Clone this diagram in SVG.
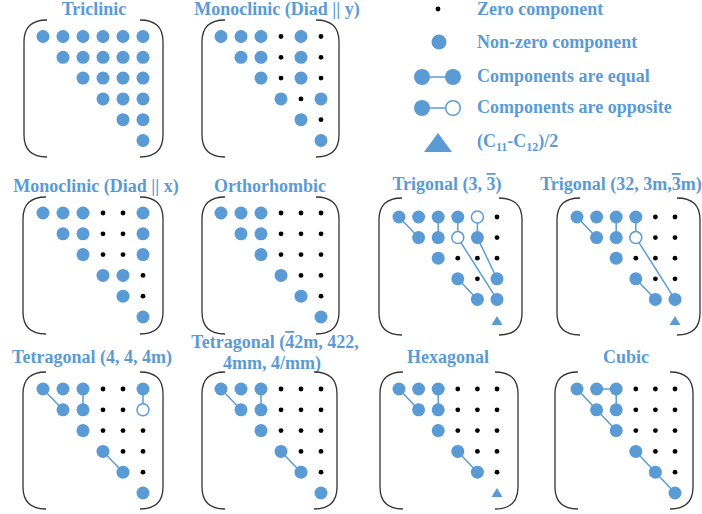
<svg xmlns="http://www.w3.org/2000/svg" xmlns:xlink="http://www.w3.org/1999/xlink" width="702" height="514" viewBox="0 0 702 514">
<style>
text{font-family:"Liberation Serif","Times New Roman",serif;font-weight:bold;font-size:18px;fill:#5B9BD5}
.tc{text-anchor:middle}
.b{fill:#5B9BD5}
.o{fill:#fff;stroke:#5B9BD5;stroke-width:1.5}
.z{fill:#000}
.l{stroke:#5B9BD5;stroke-width:1.5;fill:none}
.br{fill:none;stroke:#333;stroke-width:1.3}
</style>
<defs>
<path id="bl" class="br" d="M23,0 C8,0 0,7 0,22 L0,115 C0,130 8,137 23,137"/>
<path id="brr" class="br" d="M-23,0 C-8,0 0,7 0,22 L0,115 C0,130 -8,137 -23,137"/>
<circle id="B" r="6.5" class="b"/>
<circle id="O" r="6" class="o"/>
<circle id="Z" r="2.4" class="z"/>
<polygon id="T" points="-5.5,4 5.5,4 0,-5" class="b"/>
</defs>

<g id="legend">
<use href="#Z" x="438" y="9"/>
<text x="477" y="15">Zero component</text>
<circle cx="439" cy="42" r="7.5" class="b"/>
<text x="477" y="48">Non-zero component</text>
<line class="l" x1="422" y1="77" x2="453" y2="77"/>
<circle cx="422" cy="77" r="8" class="b"/>
<circle cx="453" cy="77" r="8" class="b"/>
<text x="477" y="82">Components are equal</text>
<line class="l" x1="422" y1="108" x2="453" y2="108"/>
<circle cx="422" cy="108" r="8" class="b"/>
<circle cx="453" cy="108" r="7.3" class="o"/>
<text x="477" y="113">Components are opposite</text>
<polygon points="424,152 452,152 438,133" class="b"/>
<text x="477" y="147">(C<tspan font-size="12" dy="4">11</tspan><tspan dy="-4">-C</tspan><tspan font-size="12" dy="4">12</tspan><tspan dy="-4">)/2</tspan></text>
</g>

<g id="triclinic">
<text class="tc" x="94" y="15">Triclinic</text>
<use href="#bl" x="24" y="20"/><use href="#brr" x="163" y="20"/>
<g transform="translate(43,36.5)">
<use href="#B" x="0" y="0"/><use href="#B" x="20" y="0"/><use href="#B" x="40" y="0"/><use href="#B" x="60" y="0"/><use href="#B" x="80" y="0"/><use href="#B" x="100" y="0"/>
<use href="#B" x="20" y="20.8"/><use href="#B" x="40" y="20.8"/><use href="#B" x="60" y="20.8"/><use href="#B" x="80" y="20.8"/><use href="#B" x="100" y="20.8"/>
<use href="#B" x="40" y="41.6"/><use href="#B" x="60" y="41.6"/><use href="#B" x="80" y="41.6"/><use href="#B" x="100" y="41.6"/>
<use href="#B" x="60" y="62.4"/><use href="#B" x="80" y="62.4"/><use href="#B" x="100" y="62.4"/>
<use href="#B" x="80" y="83.2"/><use href="#B" x="100" y="83.2"/>
<use href="#B" x="100" y="104"/>
</g>
</g>

<g id="monoclinic-y">
<text class="tc" x="277" y="15">Monoclinic (Diad || y)</text>
<use href="#bl" x="202" y="20"/><use href="#brr" x="339" y="20"/>
<g transform="translate(221,36.5)">
<use href="#B" x="0" y="0"/><use href="#B" x="20" y="0"/><use href="#B" x="40" y="0"/><use href="#Z" x="60" y="0"/><use href="#B" x="80" y="0"/><use href="#Z" x="100" y="0"/>
<use href="#B" x="20" y="20.8"/><use href="#B" x="40" y="20.8"/><use href="#Z" x="60" y="20.8"/><use href="#B" x="80" y="20.8"/><use href="#Z" x="100" y="20.8"/>
<use href="#B" x="40" y="41.6"/><use href="#Z" x="60" y="41.6"/><use href="#B" x="80" y="41.6"/><use href="#Z" x="100" y="41.6"/>
<use href="#B" x="60" y="62.4"/><use href="#Z" x="80" y="62.4"/><use href="#B" x="100" y="62.4"/>
<use href="#B" x="80" y="83.2"/><use href="#Z" x="100" y="83.2"/>
<use href="#B" x="100" y="104"/>
</g>
</g>

<g id="monoclinic-x">
<text class="tc" x="96" y="192">Monoclinic (Diad || x)</text>
<use href="#bl" x="23" y="197"/><use href="#brr" x="163" y="197"/>
<g transform="translate(43,213)">
<use href="#B" x="0" y="0"/><use href="#B" x="20" y="0"/><use href="#B" x="40" y="0"/><use href="#Z" x="60" y="0"/><use href="#Z" x="80" y="0"/><use href="#B" x="100" y="0"/>
<use href="#B" x="20" y="20.8"/><use href="#B" x="40" y="20.8"/><use href="#Z" x="60" y="20.8"/><use href="#Z" x="80" y="20.8"/><use href="#B" x="100" y="20.8"/>
<use href="#B" x="40" y="41.6"/><use href="#Z" x="60" y="41.6"/><use href="#Z" x="80" y="41.6"/><use href="#B" x="100" y="41.6"/>
<use href="#B" x="60" y="62.4"/><use href="#B" x="80" y="62.4"/><use href="#Z" x="100" y="62.4"/>
<use href="#B" x="80" y="83.2"/><use href="#Z" x="100" y="83.2"/>
<use href="#B" x="100" y="104"/>
</g>
</g>

<g id="orthorhombic">
<text class="tc" x="270" y="192">Orthorhombic</text>
<use href="#bl" x="202" y="197"/><use href="#brr" x="339" y="197"/>
<g transform="translate(221,213)">
<use href="#B" x="0" y="0"/><use href="#B" x="20" y="0"/><use href="#B" x="40" y="0"/><use href="#Z" x="60" y="0"/><use href="#Z" x="80" y="0"/><use href="#Z" x="100" y="0"/>
<use href="#B" x="20" y="20.8"/><use href="#B" x="40" y="20.8"/><use href="#Z" x="60" y="20.8"/><use href="#Z" x="80" y="20.8"/><use href="#Z" x="100" y="20.8"/>
<use href="#B" x="40" y="41.6"/><use href="#Z" x="60" y="41.6"/><use href="#Z" x="80" y="41.6"/><use href="#Z" x="100" y="41.6"/>
<use href="#B" x="60" y="62.4"/><use href="#Z" x="80" y="62.4"/><use href="#Z" x="100" y="62.4"/>
<use href="#B" x="80" y="83.2"/><use href="#Z" x="100" y="83.2"/>
<use href="#B" x="100" y="104"/>
</g>
</g>

<g id="trigonal-3">
<text class="tc" x="447" y="190">Trigonal (3, <tspan text-decoration="overline">3</tspan>)</text>
<use href="#bl" x="379" y="198"/><use href="#brr" x="522" y="198"/>
<g transform="translate(399,217)">
<g class="l">
<line x1="0" y1="0" x2="19.6" y2="20.6"/>
<line x1="39.2" y1="0" x2="39.2" y2="20.6"/>
<line x1="58.8" y1="0" x2="58.8" y2="20.6"/>
<line x1="78.4" y1="0" x2="78.4" y2="20.6"/>
<line x1="58.8" y1="20.6" x2="98" y2="82.4"/>
<line x1="78.4" y1="20.6" x2="98" y2="61.8"/>
<line x1="58.8" y1="61.8" x2="78.4" y2="82.4"/>
</g>
<use href="#B" x="0" y="0"/><use href="#B" x="19.6" y="0"/><use href="#B" x="39.2" y="0"/><use href="#B" x="58.8" y="0"/><use href="#O" x="78.4" y="0"/><use href="#Z" x="98" y="0"/>
<use href="#B" x="19.6" y="20.6"/><use href="#B" x="39.2" y="20.6"/><use href="#O" x="58.8" y="20.6"/><use href="#B" x="78.4" y="20.6"/><use href="#Z" x="98" y="20.6"/>
<use href="#B" x="39.2" y="41.2"/><use href="#Z" x="58.8" y="41.2"/><use href="#Z" x="78.4" y="41.2"/><use href="#Z" x="98" y="41.2"/>
<use href="#B" x="58.8" y="61.8"/><use href="#Z" x="78.4" y="61.8"/><use href="#B" x="98" y="61.8"/>
<use href="#B" x="78.4" y="82.4"/><use href="#B" x="98" y="82.4"/>
<use href="#T" x="98" y="104"/>
</g>
</g>

<g id="trigonal-32">
<text class="tc" x="621" y="190">Trigonal (32, 3m,<tspan text-decoration="overline">3</tspan>m)</text>
<use href="#bl" x="557" y="198"/><use href="#brr" x="700" y="198"/>
<g transform="translate(577,217)">
<g class="l">
<line x1="0" y1="0" x2="19.6" y2="20.6"/>
<line x1="39.2" y1="0" x2="39.2" y2="20.6"/>
<line x1="58.8" y1="0" x2="58.8" y2="20.6"/>
<line x1="58.8" y1="20.6" x2="98" y2="82.4"/>
<line x1="58.8" y1="61.8" x2="78.4" y2="82.4"/>
</g>
<use href="#B" x="0" y="0"/><use href="#B" x="19.6" y="0"/><use href="#B" x="39.2" y="0"/><use href="#B" x="58.8" y="0"/><use href="#Z" x="78.4" y="0"/><use href="#Z" x="98" y="0"/>
<use href="#B" x="19.6" y="20.6"/><use href="#B" x="39.2" y="20.6"/><use href="#O" x="58.8" y="20.6"/><use href="#Z" x="78.4" y="20.6"/><use href="#Z" x="98" y="20.6"/>
<use href="#B" x="39.2" y="41.2"/><use href="#Z" x="58.8" y="41.2"/><use href="#Z" x="78.4" y="41.2"/><use href="#Z" x="98" y="41.2"/>
<use href="#B" x="58.8" y="61.8"/><use href="#Z" x="78.4" y="61.8"/><use href="#Z" x="98" y="61.8"/>
<use href="#B" x="78.4" y="82.4"/><use href="#B" x="98" y="82.4"/>
<use href="#T" x="98" y="104"/>
</g>
</g>

<g id="tetragonal-4">
<text class="tc" x="92" y="363">Tetragonal (4, 4, 4m)</text>
<use href="#bl" x="23" y="372"/><use href="#brr" x="163" y="372"/>
<g transform="translate(43,389)">
<g class="l">
<line x1="0" y1="0" x2="20" y2="20.8"/>
<line x1="40" y1="0" x2="40" y2="20.8"/>
<line x1="100" y1="0" x2="100" y2="20.8"/>
<line x1="60" y1="62.4" x2="80" y2="83.2"/>
</g>
<use href="#B" x="0" y="0"/><use href="#B" x="20" y="0"/><use href="#B" x="40" y="0"/><use href="#Z" x="60" y="0"/><use href="#Z" x="80" y="0"/><use href="#B" x="100" y="0"/>
<use href="#B" x="20" y="20.8"/><use href="#B" x="40" y="20.8"/><use href="#Z" x="60" y="20.8"/><use href="#Z" x="80" y="20.8"/><use href="#O" x="100" y="20.8"/>
<use href="#B" x="40" y="41.6"/><use href="#Z" x="60" y="41.6"/><use href="#Z" x="80" y="41.6"/><use href="#Z" x="100" y="41.6"/>
<use href="#B" x="60" y="62.4"/><use href="#Z" x="80" y="62.4"/><use href="#Z" x="100" y="62.4"/>
<use href="#B" x="80" y="83.2"/><use href="#Z" x="100" y="83.2"/>
<use href="#B" x="100" y="104"/>
</g>
</g>

<g id="tetragonal-42m">
<text class="tc" x="275" y="348">Tetragonal (<tspan text-decoration="overline">4</tspan>2m, 422,</text>
<text class="tc" x="272" y="369">4mm, 4/mm)</text>
<use href="#bl" x="202" y="372"/><use href="#brr" x="337" y="372"/>
<g transform="translate(221,389)">
<g class="l">
<line x1="0" y1="0" x2="20" y2="20.8"/>
<line x1="40" y1="0" x2="40" y2="20.8"/>
<line x1="60" y1="62.4" x2="80" y2="83.2"/>
</g>
<use href="#B" x="0" y="0"/><use href="#B" x="20" y="0"/><use href="#B" x="40" y="0"/><use href="#Z" x="60" y="0"/><use href="#Z" x="80" y="0"/><use href="#Z" x="100" y="0"/>
<use href="#B" x="20" y="20.8"/><use href="#B" x="40" y="20.8"/><use href="#Z" x="60" y="20.8"/><use href="#Z" x="80" y="20.8"/><use href="#Z" x="100" y="20.8"/>
<use href="#B" x="40" y="41.6"/><use href="#Z" x="60" y="41.6"/><use href="#Z" x="80" y="41.6"/><use href="#Z" x="100" y="41.6"/>
<use href="#B" x="60" y="62.4"/><use href="#Z" x="80" y="62.4"/><use href="#Z" x="100" y="62.4"/>
<use href="#B" x="80" y="83.2"/><use href="#Z" x="100" y="83.2"/>
<use href="#B" x="100" y="104"/>
</g>
</g>

<g id="hexagonal">
<text class="tc" x="448" y="363">Hexagonal</text>
<use href="#bl" x="380" y="372"/><use href="#brr" x="518" y="372"/>
<g transform="translate(399,389)">
<g class="l">
<line x1="0" y1="0" x2="19.6" y2="20.8"/>
<line x1="39.2" y1="0" x2="39.2" y2="20.8"/>
<line x1="58.8" y1="62.4" x2="78.4" y2="83.2"/>
</g>
<use href="#B" x="0" y="0"/><use href="#B" x="19.6" y="0"/><use href="#B" x="39.2" y="0"/><use href="#Z" x="58.8" y="0"/><use href="#Z" x="78.4" y="0"/><use href="#Z" x="98" y="0"/>
<use href="#B" x="19.6" y="20.8"/><use href="#B" x="39.2" y="20.8"/><use href="#Z" x="58.8" y="20.8"/><use href="#Z" x="78.4" y="20.8"/><use href="#Z" x="98" y="20.8"/>
<use href="#B" x="39.2" y="41.6"/><use href="#Z" x="58.8" y="41.6"/><use href="#Z" x="78.4" y="41.6"/><use href="#Z" x="98" y="41.6"/>
<use href="#B" x="58.8" y="62.4"/><use href="#Z" x="78.4" y="62.4"/><use href="#Z" x="98" y="62.4"/>
<use href="#B" x="78.4" y="83.2"/><use href="#Z" x="98" y="83.2"/>
<use href="#T" x="98" y="104"/>
</g>
</g>

<g id="cubic">
<text class="tc" x="626" y="363">Cubic</text>
<use href="#bl" x="555" y="372"/><use href="#brr" x="693" y="372"/>
<g transform="translate(577,389)">
<g class="l">
<line x1="0" y1="0" x2="39.2" y2="41.6"/>
<line x1="19.6" y1="0" x2="39.2" y2="0"/>
<line x1="39.2" y1="0" x2="39.2" y2="20.8"/>
<line x1="58.8" y1="62.4" x2="98" y2="104"/>
</g>
<use href="#B" x="0" y="0"/><use href="#B" x="19.6" y="0"/><use href="#B" x="39.2" y="0"/><use href="#Z" x="58.8" y="0"/><use href="#Z" x="78.4" y="0"/><use href="#Z" x="98" y="0"/>
<use href="#B" x="19.6" y="20.8"/><use href="#B" x="39.2" y="20.8"/><use href="#Z" x="58.8" y="20.8"/><use href="#Z" x="78.4" y="20.8"/><use href="#Z" x="98" y="20.8"/>
<use href="#B" x="39.2" y="41.6"/><use href="#Z" x="58.8" y="41.6"/><use href="#Z" x="78.4" y="41.6"/><use href="#Z" x="98" y="41.6"/>
<use href="#B" x="58.8" y="62.4"/><use href="#Z" x="78.4" y="62.4"/><use href="#Z" x="98" y="62.4"/>
<use href="#B" x="78.4" y="83.2"/><use href="#Z" x="98" y="83.2"/>
<use href="#B" x="98" y="104"/>
</g>
</g>
</svg>
